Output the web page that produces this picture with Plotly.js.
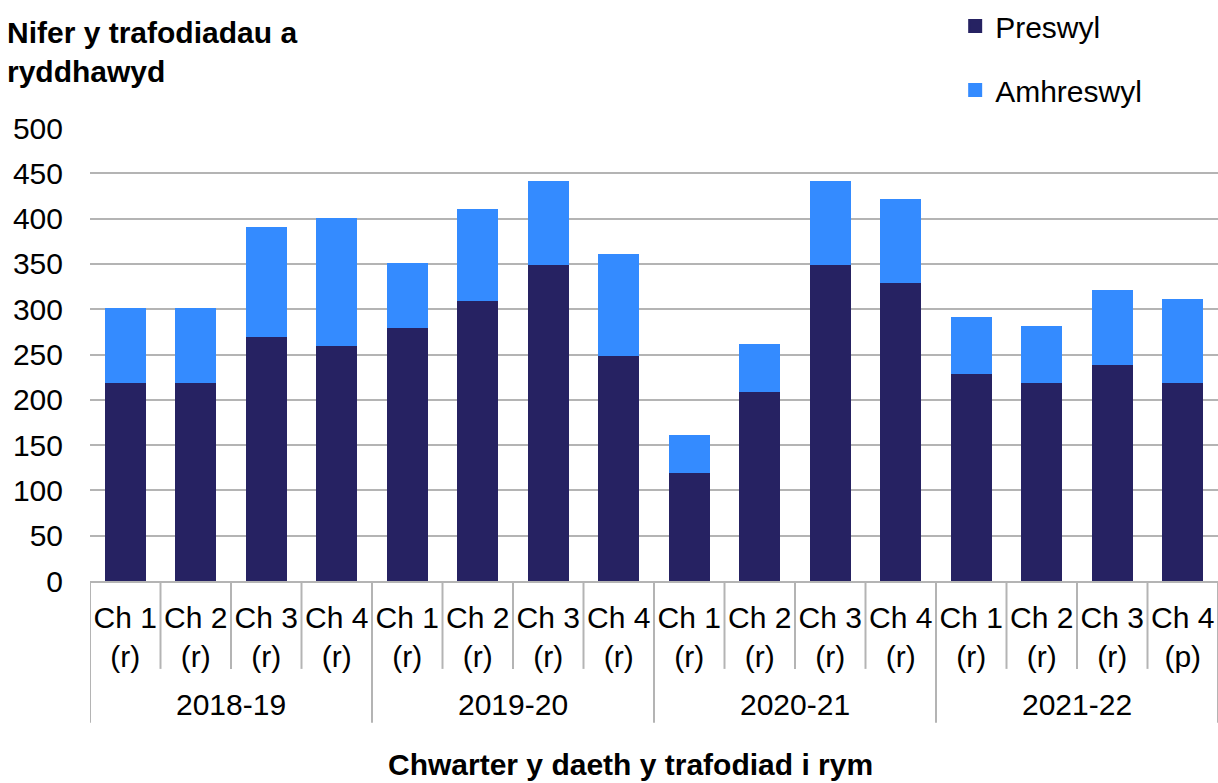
<!DOCTYPE html>
<html>
<head>
<meta charset="utf-8">
<script src="https://cdn.plot.ly/plotly-3.0.1.min.js"></script>
<style>html,body{margin:0;padding:0;background:#fff;}#chart{width:1218px;height:783px;}</style>
</head>
<body>
<div id="chart"></div>
<script>
const years = ["2018-19", "2019-20", "2020-21", "2021-22"];
const quarters = ["Ch 1", "Ch 2", "Ch 3", "Ch 4"];
const status = ["(r)","(r)","(r)","(r)", "(r)","(r)","(r)","(r)", "(r)","(r)","(r)","(r)", "(r)","(r)","(r)","(p)"];
const preswyl   = [220, 220, 270, 260, 280, 310, 350, 250, 120, 210, 350, 330, 230, 220, 240, 220];
const amhreswyl = [ 80,  80, 120, 140,  70, 100,  90, 110,  40,  50,  90,  90,  60,  60,  80,  90];

const FONT = "Liberation Sans, Arial, sans-serif";
const FS = 30;
const GRID = "#b4b4b4";
const NAVY = "#262262";
const BLUE = "#348bff";

const idx = status.map((_, i) => i);
const tickText = status.map((s, i) => quarters[i % quarters.length] + "<br>" + s);
const perYear = quarters.length;

const traces = [
  {type: "bar", name: "Preswyl", x: idx, y: preswyl, marker: {color: NAVY, line: {color: NAVY, width: 2}}, legendgroup: "a", hoverinfo: "y"},
  {type: "bar", name: "Amhreswyl", x: idx, y: amhreswyl, marker: {color: BLUE, line: {color: BLUE, width: 2}}, legendgroup: "b", hoverinfo: "y"}
];

const shapes = [];
const annotations = [];
for (let i = 0; i <= idx.length; i++) {
  const isGroup = (i % perYear === 0);
  shapes.push({type: "line", xref: "x", yref: "paper", x0: i - 0.5, x1: i - 0.5,
    y0: 0, y1: isGroup ? -0.313 : -0.194, line: {color: GRID, width: 2}});
}
years.forEach((yr, g) => {
  annotations.push({xref: "x", yref: "paper", x: g * perYear + (perYear - 1) / 2, y: -0.272,
    text: yr, showarrow: false, font: {family: FONT, size: FS, color: "#000"}, xanchor: "center", yanchor: "middle"});
});
annotations.push({xref: "paper", yref: "paper", x: -0.0755, y: 1.251, xanchor: "left", yanchor: "top", align: "left",
  text: "<b>Nifer y trafodiadau a<br>ryddhawyd</b>", showarrow: false, font: {family: FONT, size: FS, color: "#000"}});
annotations.push({xref: "paper", yref: "paper", x: 0.479, y: -0.405, xanchor: "center", yanchor: "middle",
  text: "<b>Chwarter y daeth y trafodiad i rym</b>", showarrow: false, font: {family: FONT, size: FS, color: "#000"}});

const layout = {
  width: 1218, height: 783,
  margin: {l: 90, r: 0, t: 128, b: 202},
  paper_bgcolor: "#fff", plot_bgcolor: "#fff",
  barmode: "stack", bargap: 0.45,
  font: {family: FONT, size: FS, color: "#000"},
  xaxis: {range: [-0.5, 15.5], tickvals: idx, ticktext: tickText, showgrid: false, zeroline: false,
    showline: true, linecolor: GRID, linewidth: 2, ticks: "", ticklabelstandoff: 9,
    tickfont: {family: FONT, size: FS, color: "#000"}, fixedrange: true},
  yaxis: {range: [0, 500], dtick: 50, tick0: 0, showgrid: true, gridcolor: GRID, gridwidth: 2,
    zeroline: false, showline: false, ticks: "", ticklabelstandoff: 26,
    tickfont: {family: FONT, size: FS, color: "#000"}, fixedrange: true},
  legend: {x: 0.767, xref: "paper", y: 1.013, yref: "container", xanchor: "left", yanchor: "top",
    traceorder: "grouped", tracegroupgap: 22,
    font: {family: FONT, size: FS, color: "#000"}, bgcolor: "rgba(0,0,0,0)"},
  showlegend: true,
  shapes: shapes,
  annotations: annotations
};

Plotly.newPlot("chart", traces, layout, {displayModeBar: false, staticPlot: true});
</script>
</body>
</html>
